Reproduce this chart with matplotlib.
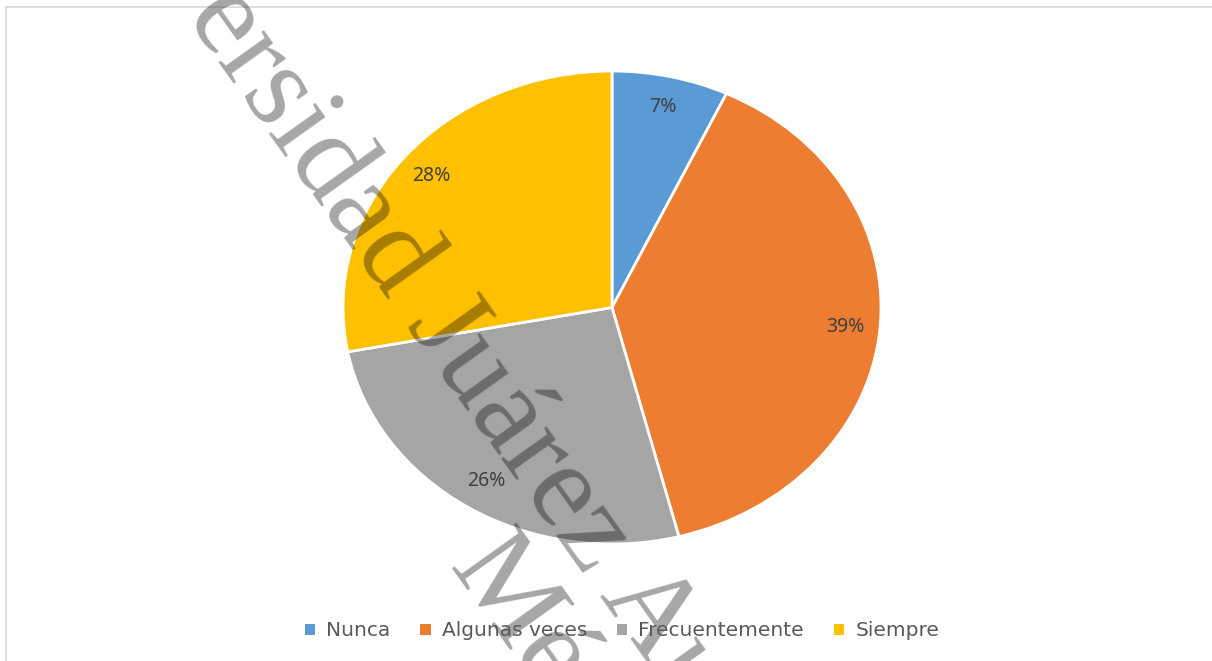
import matplotlib.pyplot as plt
from matplotlib.patches import Patch
from matplotlib.lines import Line2D

# datos del grafico
categorias = ["Nunca", "Algunas veces", "Frecuentemente", "Siempre"]
porcentajes = [7, 39, 26, 28]
colores = ["#5b9bd5", "#ed7d31", "#a5a5a5", "#ffc000"]

W, H = 1212, 661
fig = plt.figure(figsize=(W / 100, H / 100), dpi=100)

# pastel (ligeramente ensanchado como en el original)
cx, cy, rx, ry = 612, 307.5, 269, 236.5
ax = fig.add_axes([(cx - rx) / W, (H - cy - ry) / H, 2 * rx / W, 2 * ry / H])
wedges, textos, pcts = ax.pie(
    porcentajes, colors=colores, startangle=90, counterclock=False,
    autopct="%1.0f%%", pctdistance=0.87,
    wedgeprops=dict(edgecolor="white", linewidth=2.0),
    textprops=dict(color="#404040", fontsize=14, family="Noto Sans"),
)
ax.set_aspect("auto")
ax.set_xlim(-1, 1)
ax.set_ylim(-1, 1)

# leyenda
handles = [Patch(facecolor=c, edgecolor="none") for c in colores]
fig.legend(handles, categorias, loc="center", bbox_to_anchor=(622 / W, 30 / H),
           ncol=4, frameon=False, handlelength=0.5, handleheight=0.5,
           handletextpad=0.55, columnspacing=1.5,
           prop=dict(family="DejaVu Sans", size=14.5), labelcolor="#595959")

# marco del area del grafico
fig.add_artist(Line2D([6 / W, 1], [1 - 6.5 / H] * 2, color="#d9d9d9", lw=1.2))
fig.add_artist(Line2D([6 / W] * 2, [0, 1 - 6.5 / H], color="#d9d9d9", lw=1.2))

# marca de agua
wm = dict(family="Liberation Serif", fontsize=87, color="black", alpha=0.35,
          rotation=-54.5, rotation_mode="anchor", ha="left", va="baseline")
fig.text(45 / W, 1 + 181 / H, "Universidad Juárez Autónoma de Tabasco", **wm)
fig.text(447 / W, 1 - 567 / H, "México", **wm)

fig.savefig("out.png", dpi=100)
